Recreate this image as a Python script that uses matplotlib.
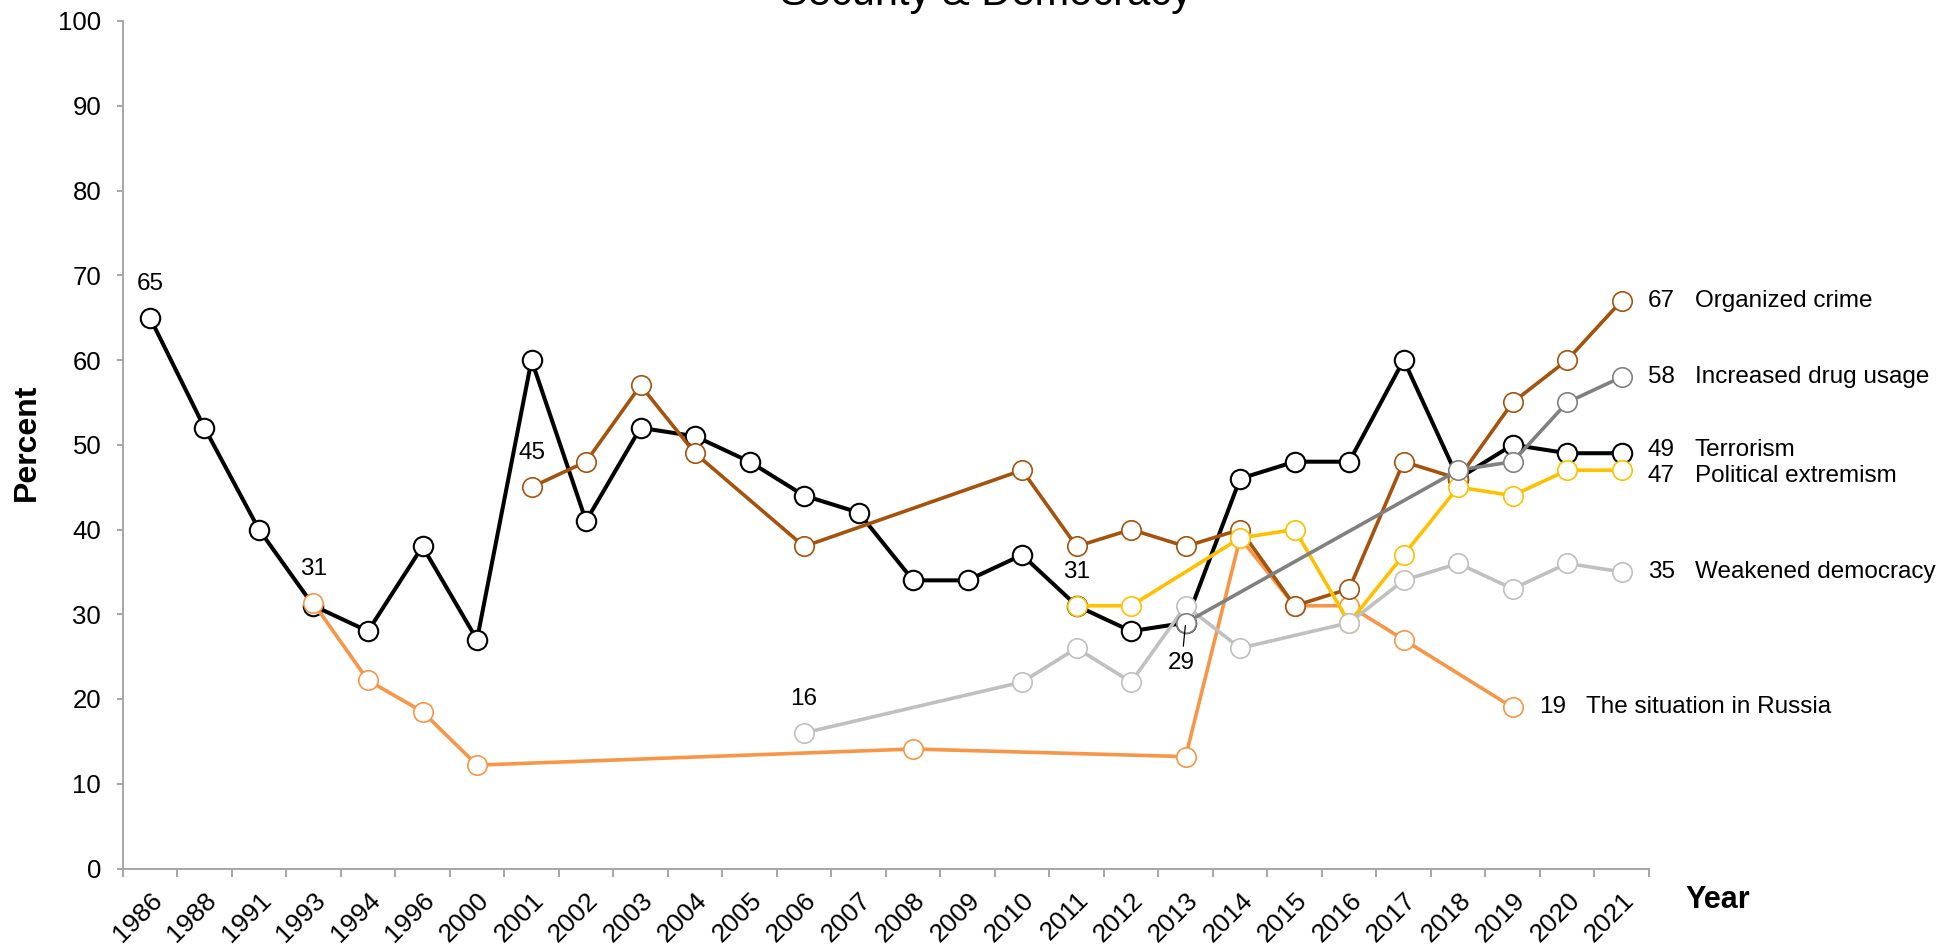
import numpy as np
import matplotlib
matplotlib.use("Agg")
import matplotlib.pyplot as plt
from matplotlib.transforms import ScaledTranslation

plt.rcParams['font.family'] = ['Liberation Sans', 'DejaVu Sans']

# ---------------- data ----------------
years = ['1986', '1988', '1991', '1993', '1994', '1996', '2000', '2001', '2002',
         '2003', '2004', '2005', '2006', '2007', '2008', '2009', '2010', '2011',
         '2012', '2013', '2014', '2015', '2016', '2017', '2018', '2019', '2020', '2021']
N = None
terrorism = [65, 52, 40, 31, 28, 38, 27, 60, 41, 52, 51, 48, 44, 42, 34, 34, 37, 31,
             28, 29, 46, 48, 48, 60, 46, 50, 49, 49]
russia = [N, N, N, 31.3, 22.2, 18.5, 12.2, N, N, N, N, N, N, N, 14.1, N, N, N, N,
          13.2, 39, 31, 31, 27, N, 19, N, N]
organized = [N, N, N, N, N, N, N, 45, 48, 57, 49, N, 38, N, N, N, 47, 38, 40, 38,
             40, 31, 33, 48, 46, 55, 60, 67]
extremism = [N] * 17 + [31, 31, N, 39, 40, 29, 37, 45, 44, 47, 47]
weakened = [N] * 12 + [16, N, N, N, 22, 26, 22, 31, 26, N, 29, 34, 36, 33, 36, 35]
drug = [N] * 19 + [29, N, N, N, N, 47, 48, 55, 58]

series_names = ['Terrorism', 'The situation in Russia', 'Organized crime',
                'Political extremism', 'Weakened democracy', 'Increased drug usage']
series_values = [terrorism, russia, organized, extremism, weakened, drug]
series_colors = ['#000000', '#F79646', '#A5520C', '#FFC000', '#C0C0C0', '#808080']
series_lw = [2.9, 2.6, 2.6, 2.6, 2.6, 2.6]
series_mew = [1.5, 1.2, 1.2, 1.2, 1.2, 1.2]
# pixel nudges for the end labels
end_dy = [3, 0, 0, -6, 0, 0]

# ---------------- figure ----------------
W, H, DPI = 1953, 944, 100
fig = plt.figure(figsize=(W / DPI, H / DPI), dpi=DPI)
ax = fig.add_axes([122.7 / W, 1 - 868.5 / H, (1649 - 122.7) / W, (868.5 - 21) / H])

n = len(years)
for k, (name, vals, col, lw, mew) in enumerate(zip(series_names, series_values,
                                                    series_colors, series_lw, series_mew)):
    xs = [i for i, v in enumerate(vals) if v is not None]
    ys = [v for v in vals if v is not None]
    ax.plot(xs, ys, color=col, lw=lw, marker='o', markersize=14,
            markerfacecolor='white', markeredgecolor=col, markeredgewidth=mew,
            zorder=2 + k, solid_joinstyle='miter')
    # end label
    lx, ly = xs[-1], ys[-1]
    ax.annotate(f'{ly:.0f}', xy=(lx, ly), xytext=(26, end_dy[k]), textcoords='offset pixels',
                ha='left', va='center', fontsize=17.5, annotation_clip=False)
    ax.annotate(name, xy=(lx, ly), xytext=(73, end_dy[k]), textcoords='offset pixels',
                ha='left', va='center', fontsize=17.5, annotation_clip=False)

# data labels above first points
def above(vals, i, txt):
    ax.annotate(txt, xy=(i, vals[i]), xytext=(0, 34), textcoords='offset pixels',
                ha='center', va='center', fontsize=17.5, zorder=20)

above(terrorism, years.index('1986'), '65')
above(russia, years.index('1993'), '31')
above(organized, years.index('2001'), '45')
above(weakened, years.index('2006'), '16')
above(extremism, years.index('2011'), '31')
i13 = years.index('2013')
ax.annotate('29', xy=(i13, drug[i13]), xytext=(-4, -40), textcoords='offset pixels',
            ha='center', va='center', fontsize=17.5, zorder=20,
            arrowprops=dict(arrowstyle='-', color='black', lw=0.9, shrinkA=2, shrinkB=2))

# axes styling
ax.set_xlim(-0.5, n - 0.5)
ax.set_ylim(0, 100)
ax.set_yticks(np.arange(0, 101, 10))
ax.set_xticks(np.arange(n + 1) - 0.5)
ax.set_xticklabels([])
ax.set_xticks(np.arange(n), minor=True)
ax.set_xticklabels(years, minor=True, rotation=45, ha='right', va='top',
                   rotation_mode='anchor', fontsize=19)
offset = ScaledTranslation(-5 / DPI, 0, fig.dpi_scale_trans)
for lbl in ax.get_xticklabels(minor=True):
    lbl.set_transform(lbl.get_transform() + offset)

grey = '#A6A6A6'
for s in ['top', 'right']:
    ax.spines[s].set_visible(False)
for s in ['left', 'bottom']:
    ax.spines[s].set_color(grey)
    ax.spines[s].set_linewidth(1.4)
ax.tick_params(axis='x', which='major', length=5.5, width=1.4, color=grey, direction='out')
ax.tick_params(axis='x', which='minor', length=0, pad=14)
ax.tick_params(axis='y', length=4.5, width=1.4, color=grey, direction='out',
               labelsize=18.5, pad=11)

fig.text(27 / W, 1 - 442 / H, 'Percent', rotation=90, ha='center', va='center',
         fontsize=23, fontweight='bold')
fig.text(1685 / W, 1 - 900 / H, 'Year', ha='left', va='center',
         fontsize=22, fontweight='bold')
fig.text(986 / W, 1 - 5 / H, 'Security & Democracy', ha='center', va='baseline',
         fontsize=30)

fig.savefig('out.png', dpi=DPI)
